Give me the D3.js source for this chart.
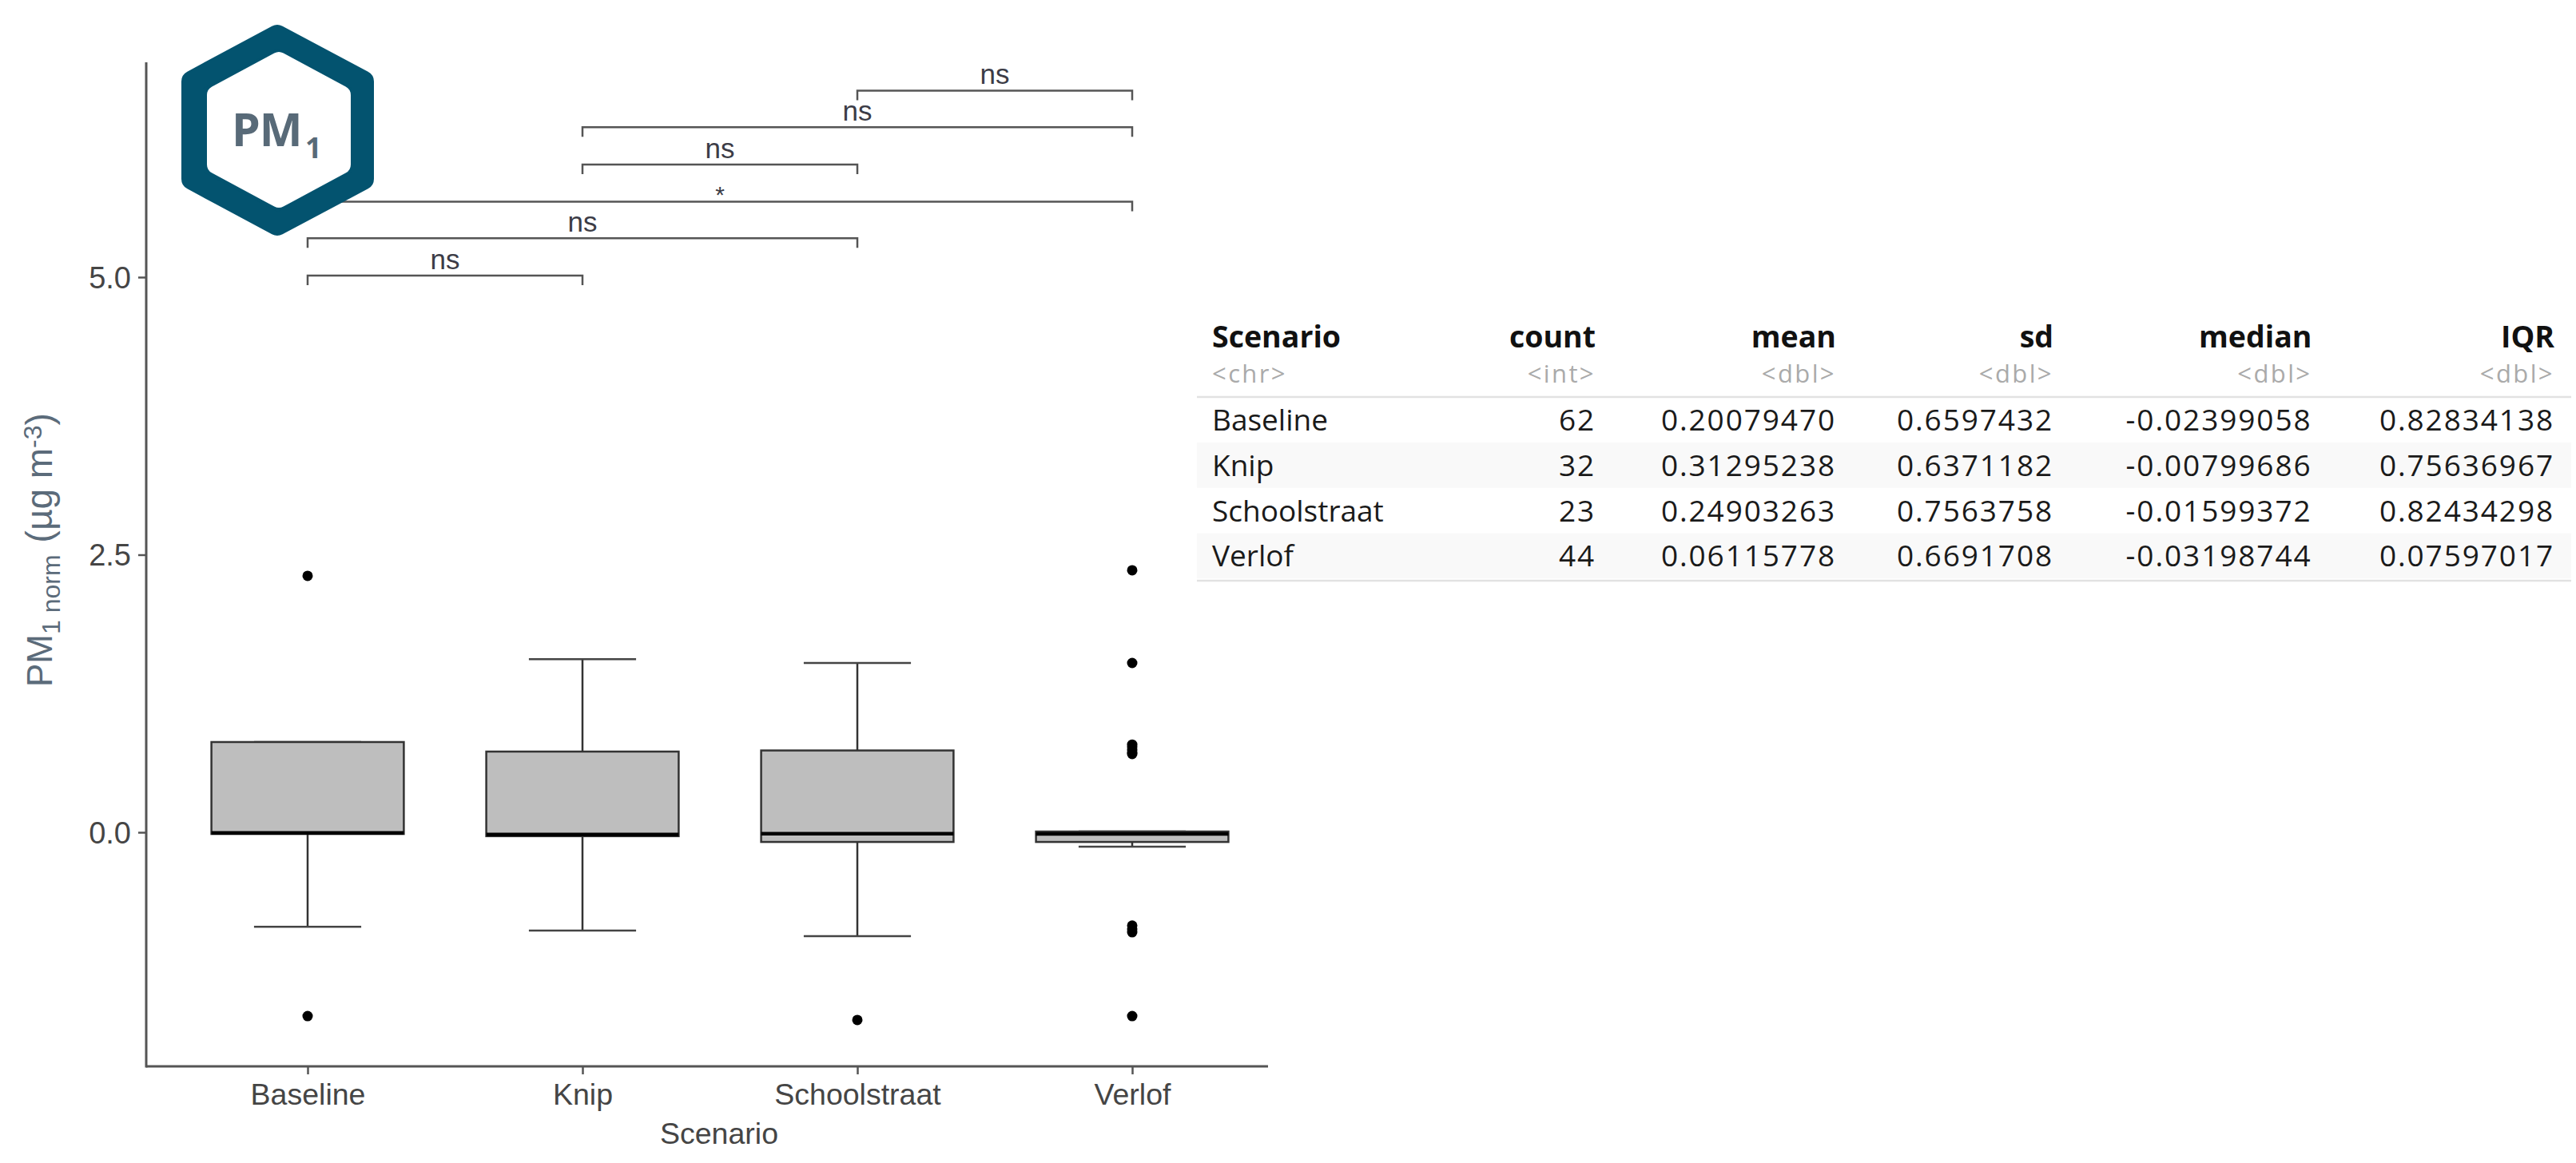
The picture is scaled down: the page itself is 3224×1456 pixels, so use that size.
<!DOCTYPE html>
<html lang="en">
<head>
    <meta charset="UTF-8">
    <title>PM1 boxplot per scenario</title>
    <script src="https://d3js.org/d3.v7.min.js"></script>
    <style>
        html, body { margin: 0; padding: 0; background: #fff; }
        svg { display: block; }
    </style>
</head>
<body>
    <svg id="chart" width="3224" height="1456"></svg>

    <script>
        // boxplot values
        const scenarios = ["Baseline", "Knip", "Schoolstraat", "Verlof"];
        const q1 = [-0.015, -0.035, -0.087, -0.087];
        const medians = [-0.005, -0.02, -0.012, -0.015];
        const q3 = [0.813, 0.727, 0.737, 0.007];
        const whiskerLow = [-0.85, -0.885, -0.935, -0.13];
        const whiskerHigh = [0.813, 1.56, 1.525, 0.007];
        const outliers = [
            [2.31, -1.655],
            [],
            [-1.69],
            [2.36, 1.525, 0.79, 0.77, 0.74, 0.72, 0.705, -0.84, -0.87, -0.9, -1.655]
        ];

        // significance brackets
        const bracketFrom = ["Baseline", "Baseline", "Baseline", "Knip", "Knip", "Schoolstraat"];
        const bracketTo = ["Knip", "Schoolstraat", "Verlof", "Schoolstraat", "Verlof", "Verlof"];
        const bracketLevel = [5.015, 5.35, 5.68, 6.015, 6.35, 6.68];
        const bracketLabel = ["ns", "ns", "*", "ns", "ns", "ns"];

        const yTicks = [0, 2.5, 5];

        // summary table
        const tableColumns = ["Scenario", "count", "mean", "sd", "median", "IQR"];
        const tableTypes = ["<chr>", "<int>", "<dbl>", "<dbl>", "<dbl>", "<dbl>"];
        const tableCount = ["62", "32", "23", "44"];
        const tableMean = ["0.20079470", "0.31295238", "0.24903263", "0.06115778"];
        const tableSd = ["0.6597432", "0.6371182", "0.7563758", "0.6691708"];
        const tableMedian = ["-0.02399058", "-0.00799686", "-0.01599372", "-0.03198744"];
        const tableIqr = ["0.82834138", "0.75636967", "0.82434298", "0.07597017"];

        const svg = d3.select("#chart");
        const sans = "'Liberation Sans', Arial, sans-serif";
        const tableFont = "'Open Sans', sans-serif";

        const x = d3.scalePoint().domain(scenarios).range([385, 1417]);
        const y = d3.scaleLinear().domain([-2.108, 6.935]).range([1335, 78]);
        const step = x.step();
        const boxWidth = step * 0.7;
        const capWidth = step * 0.39;

        // axes
        const xAxis = svg.append("g")
            .attr("transform", "translate(0," + y(-2.108) + ")")
            .call(d3.axisBottom(x).tickSize(10).tickPadding(8));
        const yAxis = svg.append("g")
            .attr("transform", "translate(183,0)")
            .call(d3.axisLeft(y).tickValues(yTicks).tickSize(10).tickPadding(9).tickFormat(d3.format(".1f")));

        [xAxis, yAxis].forEach(a => {
            a.select(".domain").remove();
            a.selectAll("line").attr("stroke", "#555").attr("stroke-width", 2.5);
            a.selectAll("text").attr("font-family", sans).attr("fill", "#454545");
        });
        xAxis.selectAll("text").attr("font-size", 37.5).attr("dy", "0.8em");
        yAxis.selectAll("text").attr("font-size", 38).attr("dy", "0.35em");

        svg.append("line").attr("x1", 183).attr("x2", 183).attr("y1", y(6.935)).attr("y2", y(-2.108) + 1.5)
            .attr("stroke", "#555").attr("stroke-width", 3);
        svg.append("line").attr("x1", 183).attr("x2", 1587).attr("y1", y(-2.108)).attr("y2", y(-2.108))
            .attr("stroke", "#555").attr("stroke-width", 3);

        svg.append("text")
            .attr("x", 900).attr("y", 1432)
            .attr("text-anchor", "middle")
            .attr("font-family", sans).attr("font-size", 37.5).attr("fill", "#454545")
            .text("Scenario");

        // y title with sub and superscript
        const yTitle = svg.append("text")
            .attr("transform", "translate(65,860) rotate(-90)")
            .attr("font-family", sans).attr("font-size", 44).attr("fill", "#5b6b7a");
        yTitle.append("tspan").text("PM");
        yTitle.append("tspan").attr("font-size", 32).attr("dy", 10).text("1 norm");
        yTitle.append("tspan").attr("font-size", 46).attr("dx", 15).attr("dy", -10).text("(µg m");
        yTitle.append("tspan").attr("font-size", 32).attr("dy", -13).text("-3");
        yTitle.append("tspan").attr("font-size", 46).attr("dy", 13).text(")");

        // boxes
        const boxes = svg.append("g").selectAll("g")
            .data(scenarios)
            .enter()
            .append("g");

        boxes.append("line")
            .attr("x1", d => x(d)).attr("x2", d => x(d))
            .attr("y1", (d, i) => y(whiskerLow[i])).attr("y2", (d, i) => y(whiskerHigh[i]))
            .attr("stroke", "#333").attr("stroke-width", 2.5);
        boxes.selectAll(".cap")
            .data((d, i) => [whiskerLow[i], whiskerHigh[i]].map(v => ({ name: d, v: v })))
            .enter()
            .append("line")
            .attr("x1", d => x(d.name) - capWidth / 2).attr("x2", d => x(d.name) + capWidth / 2)
            .attr("y1", d => y(d.v)).attr("y2", d => y(d.v))
            .attr("stroke", "#444").attr("stroke-width", 2.5);
        // Baseline and Verlof have no upper whisker cap outside the box, the box hides it
        boxes.append("rect")
            .attr("x", d => x(d) - boxWidth / 2)
            .attr("width", boxWidth)
            .attr("y", (d, i) => y(q3[i]))
            .attr("height", (d, i) => y(q1[i]) - y(q3[i]))
            .attr("fill", "#bebebe").attr("stroke", "#333").attr("stroke-width", 2.5);
        boxes.append("line")
            .attr("x1", d => x(d) - boxWidth / 2).attr("x2", d => x(d) + boxWidth / 2)
            .attr("y1", (d, i) => y(medians[i])).attr("y2", (d, i) => y(medians[i]))
            .attr("stroke", "#000").attr("stroke-width", 4.5);
        boxes.selectAll("circle")
            .data((d, i) => outliers[i].map(v => ({ name: d, v: v })))
            .enter()
            .append("circle")
            .attr("cx", d => x(d.name)).attr("cy", d => y(d.v))
            .attr("r", 6.5).attr("fill", "#000");

        // brackets
        const tip = 12;
        const brackets = svg.append("g").selectAll("g")
            .data(bracketLevel)
            .enter()
            .append("g");
        brackets.append("path")
            .attr("d", (d, i) => {
                const a = x(bracketFrom[i]), b = x(bracketTo[i]), h = y(d);
                return d3.line()([[a, h + tip], [a, h], [b, h], [b, h + tip]]);
            })
            .attr("fill", "none").attr("stroke", "#555").attr("stroke-width", 2.5);
        brackets.append("text")
            .attr("x", (d, i) => (x(bracketFrom[i]) + x(bracketTo[i])) / 2)
            .attr("y", (d, i) => y(d) - (bracketLabel[i] === "*" ? -2 : 8))
            .attr("text-anchor", "middle")
            .attr("font-family", sans)
            .attr("font-size", (d, i) => bracketLabel[i] === "*" ? 30 : 35)
            .attr("fill", "#3c3c46")
            .text((d, i) => bracketLabel[i]);

        // PM1 logo
        const ring = (pts, color, r) => svg.append("path")
            .attr("d", d3.line()(pts) + "Z")
            .attr("fill", color).attr("stroke", color)
            .attr("stroke-width", r * 2).attr("stroke-linejoin", "round");
        ring([[347, 45], [454, 102], [454, 224], [347, 281], [241, 224], [241, 102]], "#03536f", 14);
        ring([[349, 77], [427, 119], [427, 206], [349, 248], [271, 206], [271, 119]], "#fff", 12);
        svg.append("text")
            .attr("x", 290).attr("y", 183)
            .attr("font-family", tableFont).attr("font-weight", 700)
            .attr("font-size", 57).attr("letter-spacing", -1).attr("fill", "#586a78")
            .text("PM");
        svg.append("text")
            .attr("x", 382).attr("y", 198)
            .attr("font-family", tableFont).attr("font-weight", 700)
            .attr("font-size", 36).attr("fill", "#586a78")
            .text("1");

        // table
        const columnEdge = [1517, 1997, 2298, 2570, 2893.5, 3197];
        const rowY = d3.scalePoint().domain(scenarios).range([525.7, 695.8]);
        const rowHeight = rowY.step();
        const tableRows = [scenarios, tableCount, tableMean, tableSd, tableMedian, tableIqr];

        const table = svg.append("g");
        table.selectAll(".band")
            .data(["Knip", "Verlof"])
            .enter()
            .append("rect")
            .attr("x", 1498).attr("width", 1720)
            .attr("y", d => rowY(d) - rowHeight / 2)
            .attr("height", rowHeight)
            .attr("fill", "#f9f9f9");
        [497, 727].forEach(h => {
            table.append("line").attr("x1", 1498).attr("x2", 3218).attr("y1", h).attr("y2", h)
                .attr("stroke", "#e2e2e2").attr("stroke-width", 2.5);
        });

        const anchor = i => i === 0 ? "start" : "end";
        table.selectAll(".head")
            .data(tableColumns)
            .enter()
            .append("text")
            .attr("x", (d, i) => columnEdge[i]).attr("y", 435)
            .attr("text-anchor", (d, i) => anchor(i))
            .attr("font-family", tableFont).attr("font-weight", 700).attr("font-size", 37.5)
            .attr("fill", "#111")
            .text(d => d);
        table.selectAll(".type")
            .data(tableTypes)
            .enter()
            .append("text")
            .attr("x", (d, i) => columnEdge[i]).attr("y", 479)
            .attr("text-anchor", (d, i) => anchor(i))
            .attr("font-family", tableFont).attr("font-size", 31).attr("letter-spacing", 2.4)
            .attr("fill", "#aaa")
            .text(d => d);
        tableRows.forEach((col, c) => {
            table.selectAll(".col" + c)
                .data(col)
                .enter()
                .append("text")
                .attr("x", columnEdge[c])
                .attr("y", (d, i) => rowY(scenarios[i]) + 13.5)
                .attr("text-anchor", anchor(c))
                .attr("font-family", tableFont).attr("font-size", 37)
                .attr("letter-spacing", c === 0 ? 0 : 1.9)
                .attr("fill", "#1a1a1a")
                .text(d => d);
        });
    </script>
</body>
</html>
